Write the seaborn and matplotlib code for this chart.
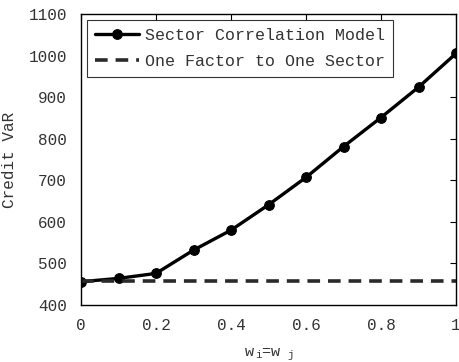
import numpy as np
import pandas as pd
import matplotlib
matplotlib.use("Agg")
import matplotlib.pyplot as plt
import seaborn as sns

weights = [0.0, 0.1, 0.2, 0.3, 0.4, 0.5, 0.6, 0.7, 0.8, 0.9, 1.0]
sector_corr_var = [456, 464, 476, 532, 580, 641, 707, 781, 851, 924, 1005]
one_factor_var = [457] * len(weights)
series_names = ["Sector Correlation Model", "One Factor to One Sector"]
x_ticks = [0, 0.2, 0.4, 0.6, 0.8, 1.0]
x_tick_labels = ["0", "0.2", "0.4", "0.6", "0.8", "1"]
y_ticks = [400, 500, 600, 700, 800, 900, 1000, 1100]

sns.set_style("white")
plt.rcParams['font.family'] = ['Liberation Mono', 'DejaVu Sans Mono']
plt.rcParams['mathtext.default'] = 'regular'

df = pd.DataFrame({
    "w": weights * 2,
    "VaR": sector_corr_var + one_factor_var,
    "series": [series_names[0]] * len(weights) + [series_names[1]] * len(weights),
})

fig = plt.figure(figsize=(4.59, 3.62), dpi=100)
ax = fig.add_axes([81/459, 1 - 305/362, (456-81)/459, (305-14)/362])

sns.lineplot(data=df[df.series == series_names[0]], x="w", y="VaR", ax=ax,
             color="black", lw=2.4, marker="o", markersize=7,
             markeredgecolor="black", label=series_names[0])
sns.lineplot(data=df[df.series == series_names[1]], x="w", y="VaR", ax=ax,
             color="#2a2a2a", lw=2.6, linestyle=(0, (3.5, 2.2)),
             label=series_names[1])

ax.set_xlim(0, 1)
ax.set_ylim(400, 1100)
ax.set_xticks(x_ticks)
ax.set_xticklabels(x_tick_labels)
ax.set_yticks(y_ticks)
ax.tick_params(direction="in", length=4, width=0.8, top=True, right=True,
               labelsize=11.5, colors="black")
ax.tick_params(axis="x", labelcolor="#333333", pad=9)
ax.tick_params(axis="y", labelcolor="#333333", pad=10)
for s in ax.spines.values():
    s.set_color("black")
    s.set_linewidth(1.0)

ax.set_xlabel("w$_{\\,i}$=w$_{\\ \\ j}$", fontsize=11, color="#333333", labelpad=10)
ax.set_ylabel("Credit VaR", fontsize=11.5, color="#333333", labelpad=8)

leg = ax.legend(loc="upper left", fontsize=12, frameon=True, fancybox=False,
                borderaxespad=0.35, handlelength=2.6, handletextpad=0.4,
                borderpad=0.5, labelspacing=0.65)
leg.get_frame().set_edgecolor("black")
leg.get_frame().set_linewidth(0.8)
for t in leg.get_texts():
    t.set_color("#333333")

fig.savefig("out.png", dpi=100)
